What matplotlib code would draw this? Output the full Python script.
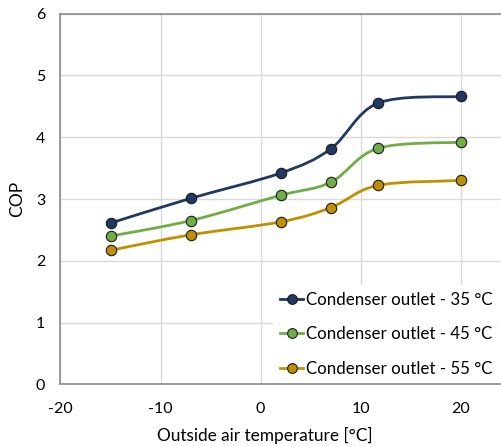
import numpy as np
import matplotlib
matplotlib.use("Agg")
from matplotlib import pyplot as plt
from matplotlib.path import Path
from matplotlib.patches import PathPatch
from matplotlib.lines import Line2D

plt.rcParams['font.family'] = ['Lato', 'DejaVu Sans']
plt.rcParams['axes.unicode_minus'] = False

# outside air temperature [°C]
temps = [-15, -7, 2, 7, 11.7, 20]
cop_35 = [2.61, 3.01, 3.42, 3.81, 4.55, 4.66]
cop_45 = [2.40, 2.65, 3.06, 3.27, 3.82, 3.92]
cop_55 = [2.17, 2.42, 2.63, 2.86, 3.22, 3.30]

labels = ["Condenser outlet - 35 °C", "Condenser outlet - 45 °C", "Condenser outlet - 55 °C"]
colors = ["#203864", "#70AD47", "#BF9000"]


def smooth_path(x, y):
    # Excel-like smoothed line: Catmull-Rom as cubic Bezier segments
    pts = np.column_stack([x, y])
    n = len(pts)
    verts = [pts[0]]
    codes = [Path.MOVETO]
    for i in range(n - 1):
        p0 = pts[max(i - 1, 0)]
        p1 = pts[i]
        p2 = pts[i + 1]
        p3 = pts[min(i + 2, n - 1)]
        c1 = p1 + (p2 - p0) / 6.0
        c2 = p2 - (p3 - p1) / 6.0
        verts += [c1, c2, p2]
        codes += [Path.CURVE4] * 3
    return Path(verts, codes)


fig = plt.figure(figsize=(5.02, 4.46), dpi=100)
ax = fig.add_axes([0.1205, 0.1383, 0.879, 0.831])

handles = []
for ys, lab, c in zip([cop_35, cop_45, cop_55], labels, colors):
    ax.add_patch(PathPatch(smooth_path(temps, ys), fill=False, edgecolor=c, lw=2, zorder=3))
    ax.plot(temps, ys, ls="none", marker="o", ms=7.5, mfc=c, mec="#1a1a1a", mew=0.8, zorder=4)
    handles.append(Line2D([], [], color=c, lw=2, marker="o", ms=7, mfc=c, mec="#1a1a1a", mew=0.8))

ax.set_xlim(-20, 24.1)
ax.set_ylim(0, 6)
ax.set_xticks([-20, -10, 0, 10, 20])
ax.set_yticks(range(0, 7))
ax.grid(True, color="#d9d9d9", lw=1)
ax.set_axisbelow(True)
ax.tick_params(length=0, labelsize=11.5, colors="#000000")
ax.tick_params(axis="x", pad=13)
ax.tick_params(axis="y", pad=11)
for s in ["left", "bottom", "top"]:
    ax.spines[s].set_color("#8c8c8c")
    ax.spines[s].set_linewidth(1.2)
    ax.spines[s].set_zorder(6)
ax.spines["right"].set_visible(False)

ax.set_xlabel("Outside air temperature [°C]", fontsize=12.4, labelpad=9)
ax.xaxis.set_label_coords(0.462, -0.115)
ax.set_ylabel("COP", fontsize=12.5, labelpad=8)

leg = ax.legend(handles, labels, loc="lower right", bbox_to_anchor=(1.007, -0.012),
                frameon=True, fontsize=12.2, handlelength=1.35, handletextpad=0.2,
                labelspacing=1.1, borderaxespad=0.3, fancybox=False)
leg.get_frame().set_edgecolor("none")
leg.get_frame().set_facecolor("white")
leg.get_frame().set_alpha(1)

fig.savefig("out.png", dpi=100)
